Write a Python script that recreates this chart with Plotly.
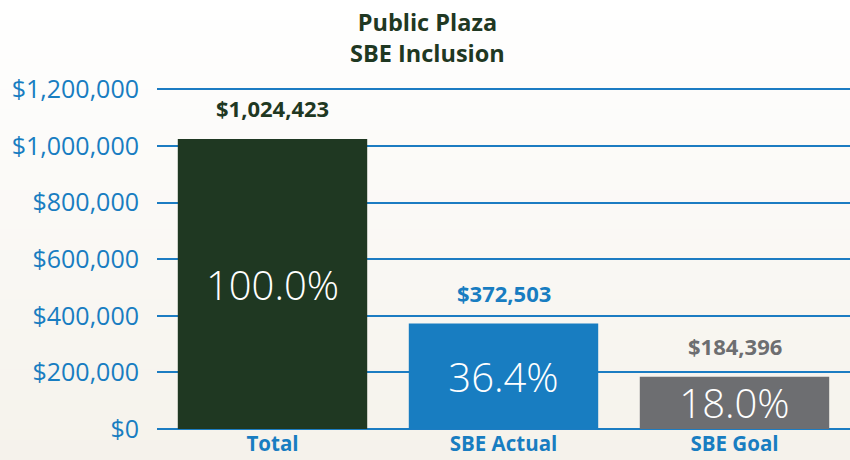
import plotly.graph_objects as go

categories = ["Total", "SBE Actual", "SBE Goal"]
values = [1024423, 372503, 184396]
bar_colors = ["#1f3822", "#187dc1", "#6d6e71"]
label_colors = ["#1f3822", "#187dc1", "#6d6e71"]
tick_vals = [0, 200000, 400000, 600000, 800000, 1000000, 1200000]
tick_text = ["$0", "$200,000", "$400,000", "$600,000", "$800,000", "$1,000,000", "$1,200,000"]
title_lines = ["Public Plaza", "SBE Inclusion"]

total = values[0]
pct_text = [f"{v / total * 100:.1f}%" for v in values]
value_text = [f"<b>${v:,.0f}</b>" for v in values]

W, H = 850, 460
ML, MR, MT, MB = 157, 0, 88, 31
y_max = 1205000
plot_w = W - ML - MR
plot_h = H - MT - MB

fig = go.Figure()
fig.add_trace(go.Bar(
    x=categories, y=values,
    marker=dict(color=bar_colors, line=dict(width=0)),
    text=pct_text, textposition="inside", insidetextanchor="middle",
    constraintext="none",
    textfont=dict(family="Open Sans", size=40, color="#ffffff", weight=300),
    hoverinfo="skip", width=0.82,
))

annotations = []
for c, v, t, col in zip(categories, values, value_text, label_colors):
    annotations.append(dict(
        x=c, y=v, xref="x", yref="y", text=t, showarrow=False,
        yanchor="bottom", yshift=14,
        font=dict(family="Open Sans", size=22, color=col),
    ))
annotations.append(dict(
    x=(427 - ML) / plot_w, y=1, xref="paper", yref="paper",
    yshift=MT - 4, yanchor="top", xanchor="center", showarrow=False,
    text="<b>" + "<br>".join(title_lines) + "</b>",
    font=dict(family="Open Sans", size=23.5, color="#1f3822"),
))

# background gradient (white at top -> warm beige at bottom)
shapes = []
N = 46
c0 = (255, 255, 255)
c1 = (245, 242, 235)
for i in range(N):
    t0 = i * H / N
    t1 = (i + 1) * H / N
    f = (i + 0.5) / N
    col = tuple(round(c0[k] + (c1[k] - c0[k]) * f) for k in range(3))
    shapes.append(dict(
        type="rect", xref="paper", yref="paper", layer="below",
        x0=-ML / plot_w - 0.01, x1=1.01,
        y0=(H - MB - t1) / plot_h, y1=(H - MB - t0) / plot_h + 0.001,
        fillcolor="rgb(%d,%d,%d)" % col, line=dict(width=0),
    ))

fig.update_layout(
    width=W, height=H,
    margin=dict(l=ML, r=MR, t=MT, b=MB, autoexpand=False),
    paper_bgcolor="#ffffff", plot_bgcolor="rgba(0,0,0,0)",
    showlegend=False, shapes=shapes, annotations=annotations,
    bargap=0.18,
    xaxis=dict(
        tickfont=dict(family="Open Sans", size=20.5, color="#187dc1", weight="bold"),
        showgrid=False, showline=False, ticks="", fixedrange=True,
    ),
    yaxis=dict(
        range=[0, y_max], tickvals=tick_vals, ticktext=tick_text,
        tickfont=dict(family="Open Sans", size=25, color="#187dc1"),
        showgrid=True, gridcolor="#1c7cc2", gridwidth=2,
        zeroline=True, zerolinecolor="#1c7cc2", zerolinewidth=2,
        showline=False, ticks="", ticklabelstandoff=17, fixedrange=True,
    ),
)

fig.write_html("out.html", config={"displayModeBar": False},
               post_script="document.body.style.margin='0';")
